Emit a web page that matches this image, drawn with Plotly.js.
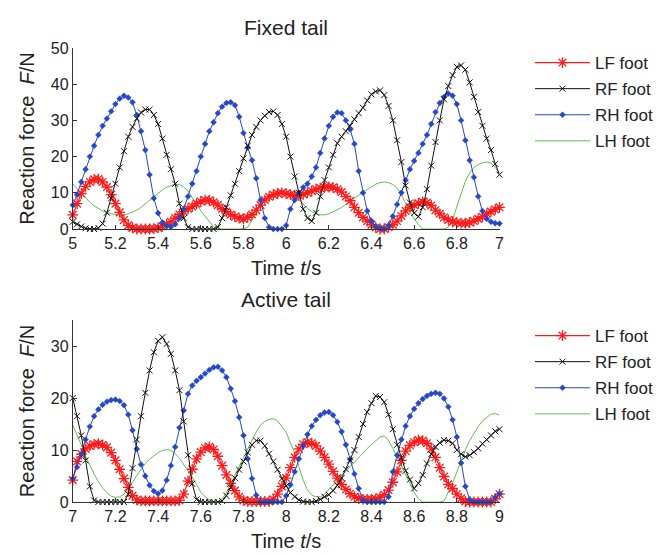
<!DOCTYPE html>
<html>
<head>
<meta charset="utf-8">
<script src="https://cdn.plot.ly/plotly-3.0.1.min.js"></script>
<style>html,body{margin:0;padding:0;background:#fff}#chart{width:658px;height:554px}</style>
</head>
<body>
<div id="chart"></div>
<script>
// ---------- DATA ----------
var seriesNames = ["LF foot", "RF foot", "RH foot", "LH foot"];
var panelTitles = ["Fixed tail", "Active tail"];
var tStartFixed = 5.0, tStartActive = 7.0, tStep = 0.02;

// Fixed tail, t = 5.00 ... 7.00 (step 0.02)
var fixedLF = [3.9,7,9.8,11.8,13,13.7,13.8,13,11.6,9.5,
  7,4.6,2.5,1,0.3,0,0,0,0,0.1,
  0.3,0.7,1.3,2,3,4,4.8,5.6,6.2,7,
  7.6,8,7.9,7.4,6.6,5.6,4.8,4,3.4,3,
  2.8,3.2,4,5.2,6.6,8,8.9,9.5,9.8,10,
  9.8,9.5,9.3,9.3,9.6,10,10.5,11,11.3,11.5,
  11.6,11.5,11,10.2,9,7.8,6,4.5,3.2,2.2,
  1.2,0.4,0,0,0.5,1.2,2.2,3.6,5,6,
  6.6,7.1,7.5,7.3,6.5,5.2,4.2,3.2,2.5,2,
  1.8,1.6,1.6,1.8,2.2,2.8,3.4,4.2,4.8,5.4,
  6];
var fixedRF = [2,1.3,0.7,0.2,0,0,0.3,1.5,4.5,8.5,
  12.5,17,21.5,25.5,28.2,30.5,32.2,33,33,31.5,
  29,25,20.5,16.5,12.5,7,3,0.5,0,0,
  0,0,0,0,0.5,3,6,9.3,12.5,16,
  19.5,23,26,28.2,30,31.3,32.3,32.5,31.5,29,
  25.5,20,14.5,10,5.5,3,2.2,4.5,9,13.5,
  17,20.5,23.7,25.5,27,28.5,30.3,32,33.5,35.5,
  37.2,38,38.3,37,34,30,24.5,18.5,12,7.3,
  4.4,3.4,6,11,17.5,24,30,35.8,39.5,42.5,
  44.8,45.2,44,40.5,36.5,32.3,28.5,25,21.8,18,
  15];
var fixedRH = [6.6,9.5,13,16.5,20,23,26,28.5,30.5,32.5,
  34.5,36,36.8,36.3,35,31.5,27,21.8,15,8.5,
  4.4,1.8,0.8,0.6,1.3,3,5.5,9,12.5,16,
  20,23.5,27,29.5,32,33.8,34.8,35,34.2,31,
  26.5,22.5,19,14,8,3,0.5,0,0,0,
  1,5.5,8,10,11.5,12.5,14.5,17,21,25,
  28.5,31,32.2,32,30,27.5,23.5,16,10,5,
  2.2,0.8,0.2,0,1,3.5,6.8,10,13.5,16.5,
  18.8,21,23.5,26,29,32.3,34.8,36.5,37.4,36.8,
  34.5,30,24.5,19,14.3,9,5,2.8,2,1.6,
  1.5];
var fixedLH = [12.5,11.2,9.8,8.6,7.4,6.4,5.6,5,4.5,4.2,
  4,3.9,3.9,4.2,4.6,5.2,6,7,8,9,
  10,10.8,11.6,12.1,12.4,12.3,11.6,10.5,8.8,6.8,
  5,3.5,2,0.6,0,0,0,0,0,0,
  0,0.5,2.5,4.5,6.5,8,9,9.7,10.1,10.3,
  10.1,9.6,9,8,6.8,5.7,4.8,4.2,3.9,3.9,
  4.2,4.7,5.3,6,6.8,7.5,8.3,9.3,10.2,11,
  11.8,12.4,12.8,13,12.8,12.3,11.3,9.5,7,4.7,
  2.8,1.2,0,0,0,0,0,0,0.5,2.5,
  6.2,10,13.2,15.5,17,17.8,18.3,18.5,18.2,17,
  15.4];

// Active tail, t = 7.00 ... 9.00 (step 0.02)
var activeLF = [4.2,7.8,9.2,10.2,10.8,11.1,11.2,11,10.5,9.5,
  8,6.3,4.5,2.8,1.2,0.4,0.2,0.2,0.2,0.2,
  0.2,0.2,0.2,0.2,0.2,0.3,1.5,4,6.3,8.3,
  9.6,10.4,10.6,10.1,8.8,7,5.2,3.6,2.2,1,
  0.3,0.1,0.1,0.1,0.1,0.1,0.1,0.5,1.5,3,
  4.6,6.6,8.6,10.2,11.1,11.5,11.3,10.8,9.8,8.6,
  7.3,5.9,4.6,3.4,2.4,1.6,1,0.7,0.5,0.5,
  0.5,0.6,0.9,1.4,2.3,3.8,5.8,8,9.8,10.9,
  11.5,11.9,11.8,11.3,10.2,8.6,6.6,4.9,3.4,2.6,
  1.5,0.7,0.1,0,0,0,0,0,0,0.6,
  1.5];
var activeRF = [20,16.5,12.8,8,3,0.3,0,0,0,0,
  0,0,0,1.5,6.5,12,16.5,21,25.3,28.8,
  31,31.7,30.4,28.5,25.3,21.5,15.5,9,3.5,0.5,
  0,0,0,0,0,0.2,1.2,2.8,4.6,6.2,
  7.8,9.5,11,11.8,11.8,10.8,9.3,7.8,6.2,4.5,
  3.1,1.8,1,0.4,0.1,0,0,0.2,0.5,1,
  1.4,2.2,3.2,4.6,6.3,8,10,12.5,15,17.3,
  19,20.4,20.2,19.2,16.8,14,11,8.5,6,4.3,
  2.6,3.6,5.2,7.4,9.2,10.6,11.4,11.9,11.8,11.3,
  10,9.2,8.7,9,9.6,10.3,11.2,12,12.8,13.6,
  14];
var activeRH = [4.5,6.7,9.2,12,14.5,16.5,17.8,18.7,19.3,19.6,
  19.7,19.4,18.6,16.8,13.8,10.2,7.2,5,3.2,2.1,
  1.6,2.2,4.2,7,10.6,14.3,17.6,20.8,22.4,23.3,
  24,24.7,25.4,25.9,26,25.3,24,21.8,19.4,16.3,
  12.8,8.3,4.5,1.3,0,0,0,0,0,0,
  1.2,3.3,5.8,8.3,10.8,13,14.6,15.8,16.7,17.2,
  17.3,16.7,15.4,13.5,11,8.2,5.4,2.6,0.3,0,
  0,0,0,0,1,5.8,9,12,14.6,16.5,
  17.9,19,19.8,20.4,20.8,21,20.8,19.9,18.3,15.8,
  12.5,7.5,3,0.5,0,0,0,0,0,0.9,
  1.6];
var activeLH = [14.8,13,11,8.8,7,5.4,3.9,2.7,1.8,1.1,
  0.9,1,1.5,2.6,3.8,5.1,6.3,7.4,8.2,8.9,
  9.5,9.9,10.1,9.9,9.3,8.4,7.3,6,4.8,3.4,
  1.9,1,0.4,0,0,0.6,1.8,3.5,5.2,6.8,
  8.3,10,11.9,13.5,14.8,15.5,15.9,16,15.6,14.6,
  13.4,11.4,9.4,6.8,4.2,2.3,1.3,1,1,1.5,
  2.4,3.4,4.4,5.3,6,6.8,7.6,8.5,9.4,10.3,
  11.1,11.9,12.5,12.7,11.8,10.3,8.6,6.8,5,3.3,
  1.9,0.6,0,0,0,0,0,0.2,1.8,3.6,
  5.8,8,10,11.8,13.3,14.5,15.6,16.3,16.9,17,
  16.7];

var fixedXTicks = [5,5.2,5.4,5.6,5.8,6,6.2,6.4,6.6,6.8,7];
var fixedXLabels = ["5","5.2","5.4","5.6","5.8","6","6.2","6.4","6.6","6.8","7"];
var activeXTicks = [7,7.2,7.4,7.6,7.8,8,8.2,8.4,8.6,8.8,9];
var activeXLabels = ["7","7.2","7.4","7.6","7.8","8","8.2","8.4","8.6","8.8","9"];
var fixedYTicks = [0,10,20,30,40,50];
var activeYTicks = [0,10,20,30];

// ---------- BUILD ----------
function timeAxis(start, n) {
  var t = [];
  for (var i = 0; i < n; i++) t.push(+(start + i * tStep).toFixed(2));
  return t;
}
var styles = [
  {color: "#ff1a1a", symbol: "asterisk-open", size: 9, mode: "lines+markers", lw: 1.2, mlw: 1.3},
  {color: "#111111", symbol: "x-thin-open", size: 6, mode: "lines+markers", lw: 1, mlw: 1},
  {color: "#2547c4", symbol: "diamond", size: 4.5, mode: "lines+markers", lw: 1, mlw: 0.5},
  {color: "#5cc24a", symbol: "circle", size: 1, mode: "lines", lw: 1, mlw: 0}
];
var fixedSets = [fixedLF, fixedRF, fixedRH, fixedLH];
var activeSets = [activeLF, activeRF, activeRH, activeLH];
var traces = [];
function addTraces(sets, start, xa, ya, leg) {
  var order = [3, 0, 2, 1]; // draw order (green underneath)
  order.forEach(function (k) {
    var s = styles[k];
    traces.push({
      x: timeAxis(start, sets[k].length), y: sets[k],
      xaxis: xa, yaxis: ya, legend: leg,
      name: seriesNames[k], legendgroup: leg + k, legendrank: k + 1,
      type: "scatter", mode: s.mode, cliponaxis: false,
      line: {color: s.color, width: s.lw},
      marker: {color: s.color, symbol: s.symbol, size: s.size, line: {color: s.color, width: s.mlw}}
    });
  });
}
addTraces(fixedSets, tStartFixed, "x", "y", "legend");
addTraces(activeSets, tStartActive, "x2", "y2", "legend2");

var fontFam = "Liberation Sans, Arial, sans-serif";
var txt = "#222";
function xAxis(range, tv, tt, dom, anchor) {
  return {domain: dom, range: range, anchor: anchor, tickvals: tv, ticktext: tt,
    showline: true, linecolor: "#333", linewidth: 1, ticks: "inside", ticklen: 4, tickcolor: "#333",
    showgrid: false, zeroline: false, tickfont: {family: fontFam, size: 16, color: txt},
    title: {text: "Time <i>t</i>/s", font: {family: fontFam, size: 20, color: txt}, standoff: 9}};
}
function yAxis(range, tv, dom, anchor) {
  return {domain: dom, range: range, anchor: anchor, tickvals: tv,
    showline: true, linecolor: "#333", linewidth: 1, ticks: "inside", ticklen: 4, tickcolor: "#333",
    showgrid: false, zeroline: false, tickfont: {family: fontFam, size: 16, color: txt},
    title: {text: "Reaction force  <i>F</i>/N", font: {family: fontFam, size: 20, color: txt}, standoff: 10}};
}
var xd = [74 / 658, 508 / 658];
var layout = {
  width: 658, height: 554,
  margin: {l: 0, r: 0, t: 0, b: 0},
  paper_bgcolor: "#fff", plot_bgcolor: "rgba(0,0,0,0)",
  showlegend: true,
  xaxis: xAxis([5, 7], fixedXTicks, fixedXLabels, xd, "y"),
  yaxis: yAxis([0, 50], fixedYTicks, [(554 - 229) / 554, (554 - 48) / 554], "x"),
  xaxis2: xAxis([7, 9], activeXTicks, activeXLabels, xd, "y2"),
  yaxis2: yAxis([0, 35], activeYTicks, [(554 - 502) / 554, (554 - 320) / 554], "x2"),
  legend: {x: 539 / 658, y: (554 - 45) / 554, xanchor: "left", yanchor: "top",
    font: {family: fontFam, size: 17, color: txt}, bgcolor: "rgba(0,0,0,0)",
    tracegroupgap: 1, traceorder: "grouped", itemwidth: 55},
  legend2: {x: 539 / 658, y: (554 - 318) / 554, xanchor: "left", yanchor: "top",
    font: {family: fontFam, size: 17, color: txt}, bgcolor: "rgba(0,0,0,0)",
    tracegroupgap: 1, traceorder: "grouped", itemwidth: 55},
  annotations: [
    {text: panelTitles[0], xref: "paper", yref: "paper", x: 291 / 658, y: (554 - 27) / 554,
      xanchor: "center", yanchor: "middle", showarrow: false, font: {family: fontFam, size: 21, color: txt}},
    {text: panelTitles[1], xref: "paper", yref: "paper", x: 291 / 658, y: (554 - 300) / 554,
      xanchor: "center", yanchor: "middle", showarrow: false, font: {family: fontFam, size: 21, color: txt}}
  ]
};
Plotly.newPlot("chart", traces, layout, {staticPlot: true, displayModeBar: false});
</script>
</body>
</html>
